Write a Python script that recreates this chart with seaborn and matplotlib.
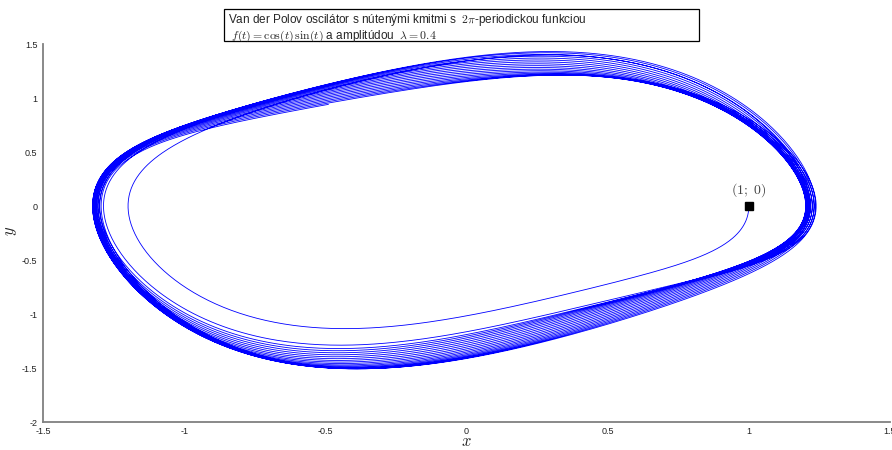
import numpy as np
import pandas as pd
import matplotlib
matplotlib.use("Agg")
import matplotlib.pyplot as plt
from matplotlib.patches import Rectangle
import seaborn as sns

# Forced Van der Pol oscillator: x'' + (x^2 - lam) x' + x = lam * cos(t) sin(t)
lam = 0.4
x_start = 1.0
y_start = 0.0
t_end = 125.0
dt = 0.01

x_ticks = [-1.5, -1, -0.5, 0, 0.5, 1, 1.5]
x_tick_labels = ["-1.5", "-1", "-0.5", "0", "0.5", "1", "1.5"]
y_ticks = [-2, -1.5, -1, -0.5, 0, 0.5, 1, 1.5]
y_tick_labels = ["-2", "-1.5", "-1", "-0.5", "0", "0.5", "1", "1.5"]


def rhs(t, x, y):
    return y, (lam - x * x) * y - x + lam * np.cos(t) * np.sin(t)


def integrate(x, y):
    n = int(round(t_end / dt))
    xs = np.empty(n + 1)
    ys = np.empty(n + 1)
    xs[0], ys[0] = x, y
    t = 0.0
    for i in range(n):
        k1 = rhs(t, x, y)
        k2 = rhs(t + dt / 2, x + dt / 2 * k1[0], y + dt / 2 * k1[1])
        k3 = rhs(t + dt / 2, x + dt / 2 * k2[0], y + dt / 2 * k2[1])
        k4 = rhs(t + dt, x + dt * k3[0], y + dt * k3[1])
        x += dt / 6 * (k1[0] + 2 * k2[0] + 2 * k3[0] + k4[0])
        y += dt / 6 * (k1[1] + 2 * k2[1] + 2 * k3[1] + k4[1])
        t += dt
        xs[i + 1], ys[i + 1] = x, y
    return xs, ys


xs, ys = integrate(x_start, y_start)
traj = pd.DataFrame({"x": xs, "y": ys})

sns.set_style("white")
plt.rcParams["font.family"] = ["Liberation Sans", "DejaVu Sans"]
plt.rcParams["mathtext.fontset"] = "cm"

fig = plt.figure(figsize=(8.92, 4.5), dpi=100)
ax = fig.add_axes([43 / 892, 28 / 450, 847 / 892, 378 / 450])

sns.lineplot(data=traj, x="x", y="y", sort=False, estimator=None,
             color="#0000ff", linewidth=0.6, ax=ax)

ax.plot([x_start], [y_start], marker="s", color="black", markersize=5.5,
        linestyle="none")
ax.text(x_start, 0.15, r"$(1;\ 0)$", ha="center", va="center",
        fontsize=10, color="#444444")

ax.set_xlim(-1.5, 1.5)
ax.set_ylim(-2, 1.5)
ax.set_xticks(x_ticks)
ax.set_xticklabels(x_tick_labels)
ax.set_yticks(y_ticks)
ax.set_yticklabels(y_tick_labels)
ax.tick_params(direction="in", length=6.5, width=0.8, color="#222222",
               labelsize=6.5, labelcolor="#222222", pad=3.5)
ax.tick_params(axis="y", pad=4)

for side in ("top", "right"):
    ax.spines[side].set_visible(False)
for side in ("left", "bottom"):
    ax.spines[side].set_color("#808080")
    ax.spines[side].set_linewidth(1.3)

ax.set_xlabel(r"$x$", fontsize=12)
ax.set_ylabel(r"$y$", fontsize=12)
ax.xaxis.set_label_coords(0.5, -0.033)
ax.yaxis.set_label_coords(-0.028, 0.505)

# Framed two-line heading
fig.patches.append(Rectangle((224 / 892, 1 - 41 / 450), 475 / 892, 32 / 450,
                             transform=fig.transFigure, facecolor="white",
                             edgecolor="black", linewidth=0.9))
fig.text(228 / 892, 1 - 12 / 450,
         "Van der Polov oscilátor s nútenými kmitmi s  $2\\pi$-periodickou funkciou\n"
         " $f(t) = \\cos(t)\\,\\sin(t)$ a amplitúdou  $\\lambda = 0.4$",
         fontsize=8.5, ha="left", va="top", linespacing=1.05)

fig.savefig("out.png", dpi=100)
